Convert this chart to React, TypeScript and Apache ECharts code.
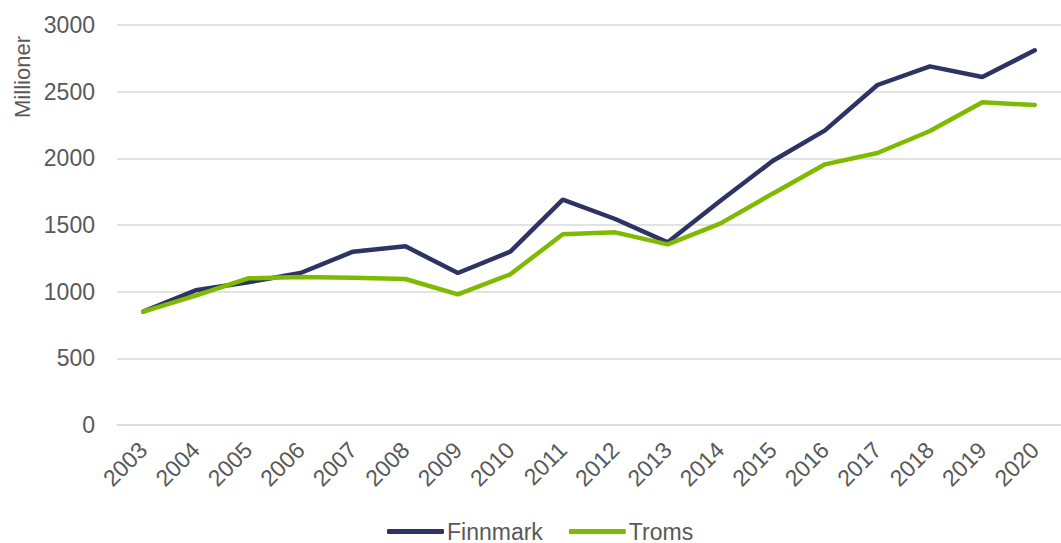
import React, { useEffect, useRef } from "react";
import * as echarts from "echarts";

const years = ["2003","2004","2005","2006","2007","2008","2009","2010","2011","2012","2013","2014","2015","2016","2017","2018","2019","2020"];
const finnmark = [850, 1010, 1070, 1140, 1300, 1340, 1140, 1300, 1690, 1545, 1370, 1680, 1980, 2210, 2550, 2690, 2610, 2810];
const troms = [850, 970, 1100, 1110, 1105, 1095, 980, 1130, 1430, 1445, 1355, 1510, 1735, 1955, 2040, 2205, 2420, 2400];

export default function App() {
  const ref = useRef<HTMLDivElement>(null);
  useEffect(() => {
    document.body.style.margin = "0";
    const chart = echarts.init(ref.current!, null, { renderer: "svg" });
    const font = "Liberation Sans, Arial, sans-serif";
    chart.setOption({
      animation: false,
      textStyle: { fontFamily: font },
      grid: { left: 117, right: 0, top: 25, bottom: 118 },
      legend: {
        bottom: 0,
        left: 382,
        itemWidth: 57,
        itemHeight: 5,
        itemGap: 26,
        icon: "roundRect",
        padding: [0, 5, 0, 5],
        textStyle: { fontSize: 23, color: "#595959", fontFamily: font, padding: [0, 0, 0, -2] },
        data: ["Finnmark", "Troms"],
      },
      graphic: [
        {
          type: "text",
          x: 22,
          y: 77,
          rotation: Math.PI / 2,
          style: {
            text: "Millioner",
            fontSize: 22,
            fill: "#595959",
            fontFamily: font,
            textAlign: "center",
            textVerticalAlign: "middle",
          },
        },
      ],
      xAxis: {
        type: "category",
        data: years,
        boundaryGap: true,
        axisLine: { lineStyle: { color: "#d9d9d9", width: 1.5 } },
        axisTick: { show: false },
        axisLabel: { rotate: 45, fontSize: 23, color: "#595959", margin: 21, interval: 0, fontFamily: font },
      },
      yAxis: {
        type: "value",
        min: 0,
        max: 3000,
        interval: 500,
        axisLine: { show: false },
        axisTick: { show: false },
        splitLine: { lineStyle: { color: "#d9d9d9", width: 1.5 } },
        axisLabel: { fontSize: 23, color: "#595959", margin: 22, fontFamily: font, formatter: (v: number) => String(v) },
      },
      series: [
        {
          name: "Finnmark",
          type: "line",
          data: finnmark,
          symbol: "none",
          lineStyle: { color: "#2e3364", width: 4.5, cap: "round" },
          itemStyle: { color: "#2e3364" },
        },
        {
          name: "Troms",
          type: "line",
          data: troms,
          symbol: "none",
          lineStyle: { color: "#7fba00", width: 4.5, cap: "round" },
          itemStyle: { color: "#7fba00" },
        },
      ],
    });
    return () => chart.dispose();
  }, []);
  return <div ref={ref} style={{ width: 1061, height: 543 }} />;
}
